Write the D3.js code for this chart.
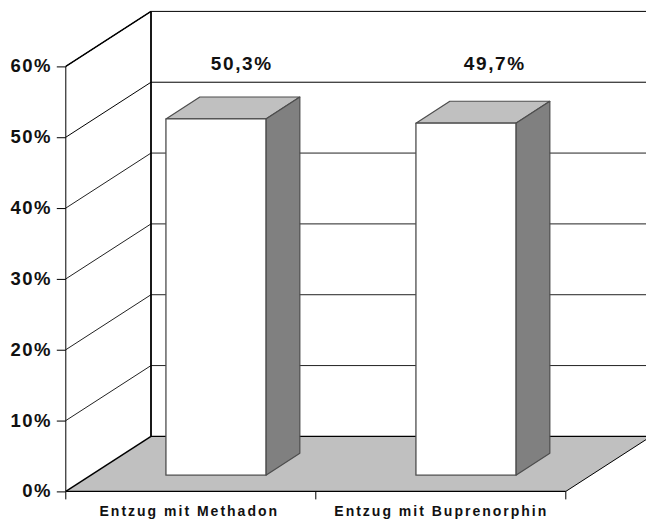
<!DOCTYPE html>
<html>
<head>
<meta charset="utf-8">
<script src="https://cdnjs.cloudflare.com/ajax/libs/d3/7.8.5/d3.min.js"></script>
<style>
html,body{margin:0;padding:0;background:#fff}
svg{display:block}
text{font-family:"Liberation Sans",Arial,sans-serif;font-weight:bold;fill:#111}
</style>
</head>
<body>
<svg id="chart" width="646" height="519"></svg>
<script>
// Withdrawal treatment shares, drawn as a pseudo-3D column chart
const categories = ["Entzug mit Methadon", "Entzug mit Buprenorphin"];
const shares = [50.3, 49.7];
const shareLabels = ["50,3%", "49,7%"];
const tickValues = [0, 10, 20, 30, 40, 50, 60];

const svg = d3.select("#chart");

const x = d3.scaleBand().domain(categories).range([65.8, 565.8]);
const y = d3.scaleLinear().domain([0, 60]).range([491.4, 66.4]);

// Oblique projection: depth 0 is the front of the floor, depth 1 the back wall
const depthX = d3.scaleLinear().domain([0, 1]).range([0, 85.2]);
const depthY = d3.scaleLinear().domain([0, 1]).range([0, -55]);
const project = (px, v, d) => [px + depthX(d), y(v) + depthY(d)];
const poly = pts => "M" + pts.map(p => p.join(",")).join("L") + "Z";

const barWidth = 100;
const barFront = 0.295;
const barBack = 0.693;

const left = x.range()[0], right = x.range()[1];

// Floor
svg.append("path")
  .attr("d", poly([project(left, 0, 0), project(right, 0, 0), project(right, 0, 1), project(left, 0, 1)]))
  .attr("fill", "#c0c0c0");
svg.append("line")
  .attr("x1", project(left, 0, 1)[0]).attr("x2", project(right, 0, 1)[0])
  .attr("y1", project(left, 0, 1)[1]).attr("y2", project(left, 0, 1)[1])
  .attr("stroke", "#000").attr("stroke-width", 1.2);
svg.append("line")
  .attr("x1", project(right, 0, 0)[0]).attr("y1", project(right, 0, 0)[1])
  .attr("x2", project(right, 0, 1)[0]).attr("y2", project(right, 0, 1)[1])
  .attr("stroke", "#000").attr("stroke-width", 1);

// Gridlines across the back wall and down the side wall
const grid = svg.append("g");
tickValues.filter(t => t > 0).forEach(t => {
  const a = project(left, t, 0), b = project(left, t, 1), c = project(right, t, 1);
  grid.append("path")
    .attr("d", `M${a}L${b}L${c}`)
    .attr("fill", "none").attr("stroke", t >= 50 ? "#000" : "#222").attr("stroke-width", 1);
});

// Wall edges
const wallTop = project(left, 60, 1), wallBottom = project(left, 0, 1);
svg.append("line")
  .attr("x1", wallTop[0]).attr("y1", wallTop[1]).attr("x2", wallBottom[0]).attr("y2", wallBottom[1])
  .attr("stroke", "#000").attr("stroke-width", 1.8);
svg.append("line")
  .attr("x1", left).attr("y1", y(0)).attr("x2", wallBottom[0]).attr("y2", wallBottom[1])
  .attr("stroke", "#000").attr("stroke-width", 1.5);
svg.append("line")
  .attr("x1", left).attr("y1", y(60)).attr("x2", wallTop[0]).attr("y2", wallTop[1])
  .attr("stroke", "#000").attr("stroke-width", 1.3);

// Value axis
svg.append("line")
  .attr("x1", left).attr("x2", left).attr("y1", y(60)).attr("y2", y(0))
  .attr("stroke", "#000").attr("stroke-width", 1);
svg.append("g")
  .attr("transform", `translate(${left},0)`)
  .call(d3.axisLeft(y).tickValues(tickValues).tickFormat(d => d + "%").tickSize(9).tickPadding(5))
  .call(g => g.select(".domain").remove())
  .call(g => g.selectAll("line").attr("stroke", "#000"))
  .call(g => g.selectAll("text")
    .attr("font-size", 18.5).attr("letter-spacing", 1.4).attr("dy", "0.3em")
    .style("font-family", '"Liberation Sans",Arial,sans-serif').style("font-weight", "bold").attr("fill", "#111"));

// Category axis
svg.append("line")
  .attr("x1", left).attr("x2", right).attr("y1", y(0)).attr("y2", y(0))
  .attr("stroke", "#000").attr("stroke-width", 1.2);
const catTicks = [left, ...categories.map(c => x(c) + x.bandwidth())];
svg.selectAll(".cat-tick").data(catTicks).join("line")
  .attr("class", "cat-tick")
  .attr("x1", d => d).attr("x2", d => d).attr("y1", y(0)).attr("y2", y(0) + 8)
  .attr("stroke", "#000");
const catShift = [-1.5, 0.5];
svg.selectAll(".cat-label").data(categories).join("text")
  .attr("class", "cat-label")
  .attr("x", (d, i) => x(d) + x.bandwidth() / 2 + catShift[i])
  .attr("y", 515.8)
  .attr("text-anchor", "middle")
  .attr("font-size", 14)
  .attr("letter-spacing", 2)
  .text(d => d);

// Columns
const bars = svg.selectAll(".bar").data(categories.map((c, i) => ({ c, v: shares[i], label: shareLabels[i] })))
  .join("g").attr("class", "bar");
const x0 = d => x(d.c) + x.bandwidth() / 2 - barWidth / 2;
const x1 = d => x0(d) + barWidth;
const edge = "#4d4d4d";
bars.append("path")
  .attr("d", d => poly([project(x0(d), d.v, barFront), project(x1(d), d.v, barFront), project(x1(d), d.v, barBack), project(x0(d), d.v, barBack)]))
  .attr("fill", "#c0c0c0").attr("stroke", edge).attr("stroke-width", 1.2).attr("stroke-linejoin", "round");
bars.append("path")
  .attr("d", d => poly([project(x1(d), 0, barFront), project(x1(d), 0, barBack), project(x1(d), d.v, barBack), project(x1(d), d.v, barFront)]))
  .attr("fill", "#808080").attr("stroke", edge).attr("stroke-width", 1.2).attr("stroke-linejoin", "round");
bars.append("path")
  .attr("d", d => poly([project(x0(d), 0, barFront), project(x1(d), 0, barFront), project(x1(d), d.v, barFront), project(x0(d), d.v, barFront)]))
  .attr("fill", "#fff").attr("stroke", edge).attr("stroke-width", 1.3).attr("stroke-linejoin", "round");

// Value labels in the band above the back wall's 50% line
const labelShift = [51, 54];
bars.append("text")
  .attr("x", (d, i) => x0(d) + barWidth / 2 + labelShift[i])
  .attr("y", 69.5)
  .attr("text-anchor", "middle")
  .attr("font-size", 19)
  .attr("letter-spacing", 1.6)
  .text(d => d.label);
</script>
</body>
</html>
